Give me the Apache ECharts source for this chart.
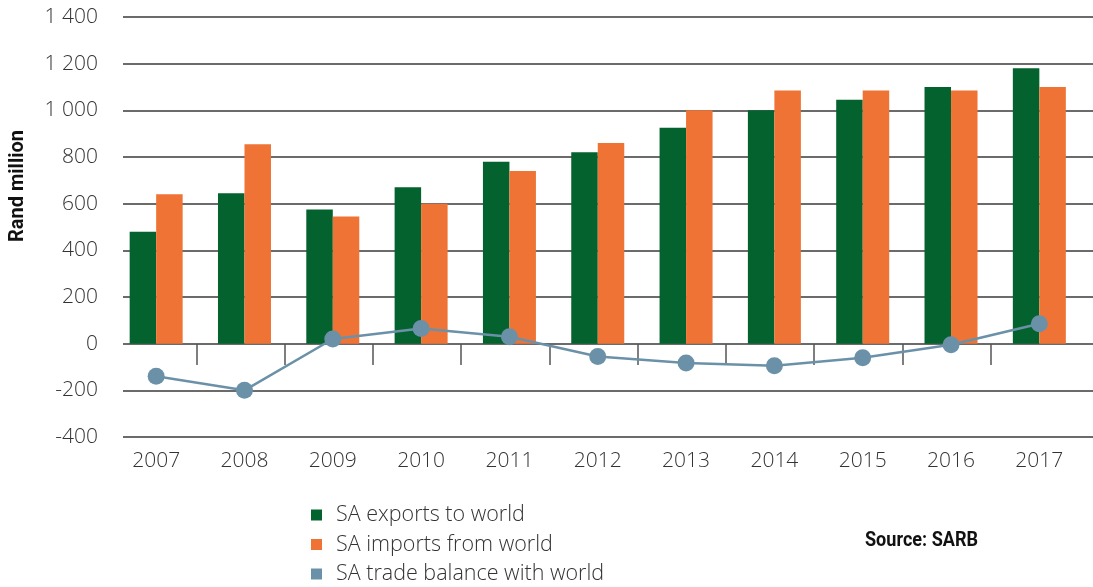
<!DOCTYPE html>
<html>
<head>
<meta charset="utf-8">
<title>SA trade with the world</title>
<script src="https://cdn.jsdelivr.net/npm/echarts@6/dist/echarts.min.js"></script>
<style>
  html, body { margin: 0; padding: 0; background: #ffffff; }
  #chart { width: 1093px; height: 587px; }
</style>
</head>
<body>
<div id="chart"></div>
<script>
// Years on the category axis
const years = ['2007', '2008', '2009', '2010', '2011', '2012', '2013', '2014', '2015', '2016', '2017'];
// Rand million
const exportsToWorld = [480, 645, 575, 670, 780, 820, 925, 1000, 1045, 1100, 1180];
const importsFromWorld = [640, 855, 545, 600, 740, 860, 1000, 1085, 1085, 1085, 1100];
const tradeBalance = [-140, -200, 20, 65, 30, -55, -83, -95, -60, -5, 85];
// Value axis range and step
const yMin = -400;
const yMax = 1400;
const yStep = 200;

const seriesNames = ['SA exports to world', 'SA imports from world', 'SA trade balance with world'];
const colors = ['#03622d', '#ef7335', '#6b91a9'];

const labelFont = "'Open Sans', 'Noto Sans', sans-serif";
const boldFont = "Roboto, 'Open Sans', sans-serif";
const textColor = '#333333';
const gridColor = '#3a3a3a';

function fmtThousands(v) {
  const s = String(Math.abs(v)).replace(/\B(?=(\d{3})+(?!\d))/g, ' ');
  return (v < 0 ? '-' : '') + s;
}

// Bold captions are squeezed horizontally to a condensed look
const measureCtx = document.createElement('canvas').getContext('2d');
function squeeze(text, font, targetWidth) {
  measureCtx.font = font;
  const w = measureCtx.measureText(text).width;
  return w > 0 ? Math.min(1, targetWidth / w) : 1;
}
const captionFont = 'bold 20px ' + boldFont;

const chart = echarts.init(document.getElementById('chart'), null, { renderer: 'canvas' });

const option = {
  animation: false,
  backgroundColor: '#ffffff',
  color: colors,
  grid: [
    // bars and line
    { left: 112, right: 9.5, top: 17, height: 420 },
    // horizontal rules and value labels
    { left: 123, right: 0, top: 17, height: 420 },
    // category separators below the zero line
    { left: 108, right: 14, top: 344, height: 21 }
  ],
  xAxis: [
    {
      type: 'category', gridIndex: 0, data: years, boundaryGap: true,
      axisLine: { show: false, onZero: false }, axisTick: { show: false },
      splitLine: { show: false },
      axisLabel: { margin: 14, fontSize: 21, fontWeight: 300, color: textColor, fontFamily: labelFont }
    },
    { type: 'value', gridIndex: 1, min: 0, max: 1, show: false },
    {
      type: 'category', gridIndex: 2, data: years, boundaryGap: true,
      axisLine: { show: false }, axisTick: { show: false }, axisLabel: { show: false },
      splitLine: { show: true, showMinLine: false, showMaxLine: false, lineStyle: { color: '#555555', width: 1.5 } }
    }
  ],
  yAxis: [
    { type: 'value', gridIndex: 0, min: yMin, max: yMax, interval: yStep, show: false },
    {
      type: 'value', gridIndex: 1, min: yMin, max: yMax, interval: yStep,
      axisLine: { show: false }, axisTick: { show: false },
      splitLine: { show: true, lineStyle: { color: gridColor, width: 1.5 } },
      axisLabel: { margin: 25, fontSize: 21, fontWeight: 300, color: textColor, fontFamily: labelFont, formatter: fmtThousands }
    },
    { type: 'value', gridIndex: 2, min: 0, max: 1, show: false }
  ],
  legend: {
    orient: 'vertical', left: 311, top: 504, height: 100, padding: 0,
    icon: 'rect', itemWidth: 11, itemHeight: 11, itemGap: 7.5,
    itemStyle: { borderWidth: 0 },
    textStyle: { fontSize: 21.5, fontWeight: 300, color: textColor, fontFamily: labelFont, lineHeight: 20, padding: [0, 0, 0, 9] },
    data: seriesNames
  },
  graphic: [
    {
      type: 'text', x: 17.5, y: 186, rotation: Math.PI / 2,
      scaleX: squeeze('Rand million', captionFont, 118),
      style: {
        text: 'Rand million', align: 'center', verticalAlign: 'middle',
        font: captionFont, fill: '#111111'
      }
    },
    {
      type: 'text', x: 865, y: 541,
      scaleX: squeeze('Source: SARB', captionFont, 113),
      style: {
        text: 'Source: SARB', align: 'left', verticalAlign: 'middle',
        font: captionFont, fill: '#111111'
      }
    }
  ],
  series: [
    {
      name: seriesNames[0], type: 'bar', xAxisIndex: 0, yAxisIndex: 0,
      data: exportsToWorld, barWidth: 26.5, barGap: '0%',
      itemStyle: { color: colors[0] }
    },
    {
      name: seriesNames[1], type: 'bar', xAxisIndex: 0, yAxisIndex: 0,
      data: importsFromWorld, barWidth: 26.5, barGap: '0%',
      itemStyle: { color: colors[1] }
    },
    {
      name: seriesNames[2], type: 'line', xAxisIndex: 0, yAxisIndex: 0,
      data: tradeBalance, z: 5,
      symbol: 'circle', symbolSize: 17, showAllSymbol: true,
      lineStyle: { color: colors[2], width: 2.5 },
      itemStyle: { color: colors[2], borderWidth: 0 }
    }
  ]
};

chart.setOption(option);
</script>
</body>
</html>
